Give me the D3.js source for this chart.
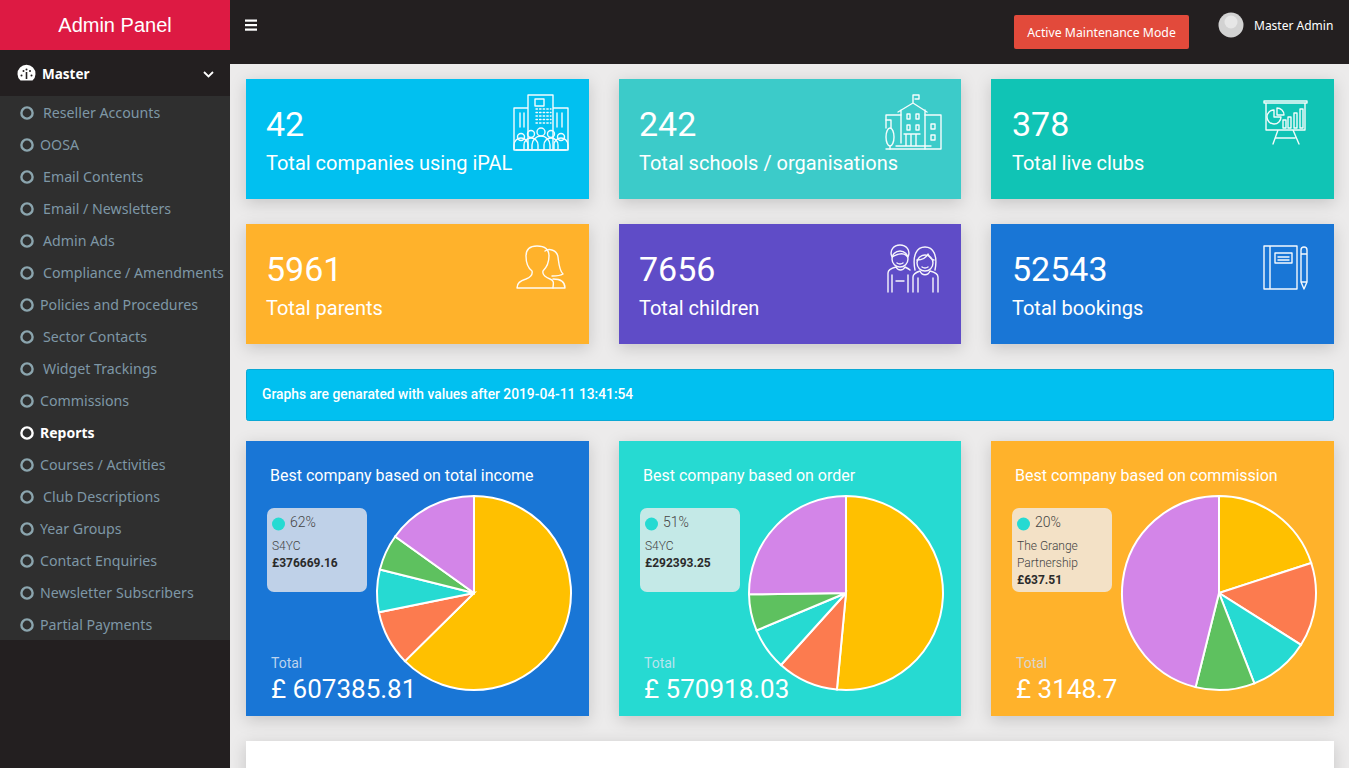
<!DOCTYPE html>
<html>
<head>
<meta charset="utf-8">
<title>Admin Panel</title>
<script src="https://d3js.org/d3.v7.min.js"></script>
<style>
  html, body { margin: 0; padding: 0; background: #ecebeb; overflow: hidden; }
  svg { display: block; }
  .roboto { font-family: Roboto, sans-serif; }
  .side { font-family: "Noto Sans", sans-serif; }
  .card { filter: drop-shadow(0 4px 8px rgba(0,0,0,0.16)); }
  .icon { fill: none; stroke: #fff; stroke-width: 1.4; stroke-linejoin: round; stroke-linecap: round; opacity: 0.95; }
</style>
</head>
<body>
<div id="page"></div>
<script>
// menu
var menuItems = ["Reseller Accounts", "OOSA", "Email Contents", "Email / Newsletters", "Admin Ads",
  "Compliance / Amendments", "Policies and Procedures", "Sector Contacts", "Widget Trackings", "Commissions",
  "Reports", "Courses / Activities", "Club Descriptions", "Year Groups", "Contact Enquiries",
  "Newsletter Subscribers", "Partial Payments"];
var menuIndented = ["Reseller Accounts", "Email Contents", "Email / Newsletters", "Admin Ads",
  "Compliance / Amendments", "Sector Contacts", "Widget Trackings", "Club Descriptions"];

// stat boxes
var statValues = [42, 242, 378, 5961, 7656, 52543];
var statLabels = ["Total companies using iPAL", "Total schools / organisations", "Total live clubs",
  "Total parents", "Total children", "Total bookings"];
var statColors = ["#01c0f0", "#3ccbc9", "#10c4b5", "#ffb22b", "#5f4cc7", "#1976d6"];

var sliceColors = ["#ffc000", "#fc7b4f", "#26dad2", "#5ec15f", "#d385e8"];
var incomeValues = [376669.16, 55400, 42700, 36100, 90831];
var orderValues = [292393.25, 57900, 39700, 34600, 143207];
var commissionValues = [637.51, 446, 322, 313, 1471];

var pieTitles = ["Best company based on total income", "Best company based on order", "Best company based on commission"];
var pieTotals = ["607385.81", "570918.03", "3148.7"];
var piePercents = ["62%", "51%", "20%"];
var pieCompanies = [["S4YC"], ["S4YC"], ["The Grange", "Partnership"]];
var pieAmounts = ["£376669.16", "£292393.25", "£637.51"];
var pieBackgrounds = ["#1976d6", "#26dad2", "#ffb22b"];
var boxColors = ["#bfd1e8", "#c4e9e7", "#f3e1c6"];
var totalColors = ["#bcd3ee", "#b9e4ee", "#d9d6cf"];

var svg = d3.select("#page").append("svg").attr("width", 1349).attr("height", 768);

var colX = [246, 619, 991];
var cardW = 343;

// top bar and sidebar
svg.append("rect").attr("width", 1349).attr("height", 64).attr("fill", "#231f20");
svg.append("rect").attr("width", 230).attr("height", 768).attr("fill", "#231f20");
svg.append("rect").attr("width", 230).attr("height", 50).attr("fill", "#dd1a43");
svg.append("text").attr("x", 115).attr("y", 32).attr("text-anchor", "middle")
  .attr("fill", "#fff").style("font", "20px 'Liberation Sans', sans-serif").text("Admin Panel");

// hamburger
svg.append("g").selectAll("rect").data(d3.range(3)).join("rect")
  .attr("x", 245).attr("y", function(d) { return 19.5 + d * 4.5; })
  .attr("width", 12).attr("height", 2.2).attr("fill", "#fff");

svg.append("rect").attr("x", 1014).attr("y", 15).attr("width", 175).attr("height", 34).attr("rx", 2).attr("fill", "#e24a3b");
svg.append("text").attr("class", "side").attr("x", 1101.5).attr("y", 37).attr("text-anchor", "middle")
  .attr("fill", "#fff").attr("font-size", 12.25).text("Active Maintenance Mode");

// avatar
svg.append("circle").attr("cx", 1231).attr("cy", 25).attr("r", 12.5).attr("fill", "#d2d2d2");
svg.append("circle").attr("cx", 1231).attr("cy", 22).attr("r", 6.5).attr("fill", "#e6e6e6");
svg.append("text").attr("class", "side").attr("x", 1254).attr("y", 30)
  .attr("fill", "#fff").attr("font-size", 12).text("Master Admin");

// master row
svg.append("path").attr("d", "M20.5,80.5 A9,9 0 1 1 32.5,80.5 Z").attr("fill", "#fff");
svg.append("g").attr("fill", "#231f20").selectAll("circle")
  .data([[21.5, 75.5], [23.5, 71], [26.5, 69.5], [30, 71], [31.5, 75.5]]).join("circle")
  .attr("cx", function(d) { return d[0]; }).attr("cy", function(d) { return d[1]; }).attr("r", 1);
svg.append("path").attr("d", "M26.5,72 L26.5,79").attr("stroke", "#231f20").attr("stroke-width", 1.6);
svg.append("text").attr("class", "side").attr("x", 42).attr("y", 79)
  .attr("fill", "#fff").attr("font-size", 13.5).attr("font-weight", 700).text("Master");
svg.append("path").attr("d", "M204,72 l4.5,4.5 l4.5,-4.5").attr("fill", "none")
  .attr("stroke", "#fff").attr("stroke-width", 1.8);

svg.append("rect").attr("y", 96).attr("width", 230).attr("height", 544).attr("fill", "#2f2f2f");

var menu = svg.append("g").selectAll("g").data(menuItems).join("g")
  .attr("transform", function(d, i) { return "translate(0," + (113 + i * 32) + ")"; });
menu.append("circle").attr("cx", 27).attr("r", 5.6).attr("fill", "none")
  .attr("stroke-width", 2.4)
  .attr("stroke", function(d) { return d === "Reports" ? "#fff" : "#8ba5ae"; });
menu.append("text").attr("class", "side")
  .attr("x", function(d) { return menuIndented.indexOf(d) >= 0 ? 43 : 40; })
  .attr("y", 5)
  .attr("font-size", function(d) { return d === "Reports" ? 14 : 14.2; })
  .attr("font-weight", function(d) { return d === "Reports" ? 700 : 400; })
  .attr("fill", function(d) { return d === "Reports" ? "#fff" : "#7e97a6"; })
  .text(function(d) { return d; });

// stat cards
var stats = svg.append("g").selectAll("g").data(statValues).join("g")
  .attr("transform", function(d, i) { return "translate(" + colX[i % 3] + "," + (i < 3 ? 79 : 224) + ")"; });
stats.append("rect").attr("class", "card").attr("width", function(d, i) { return i % 3 === 1 ? 342 : 343; })
  .attr("height", 120).attr("fill", function(d, i) { return statColors[i]; });
stats.append("text").attr("class", "roboto").attr("x", function(d, i) { return i % 3 === 2 ? 21 : 20; })
  .attr("y", 57).attr("fill", "#fff").attr("font-size", 34)
  .text(function(d) { return d; });
stats.append("text").attr("class", "roboto").attr("x", function(d, i) { return i % 3 === 2 ? 21 : 20; })
  .attr("y", 91).attr("fill", "#fff").attr("font-size", 20)
  .text(function(d, i) { return statLabels[i]; });

// line icons, drawn in page coordinates
var icons = svg.append("g").attr("class", "icon");
function line(d) { icons.append("path").attr("d", d); }
function ring(x, y, r) { icons.append("circle").attr("cx", x).attr("cy", y).attr("r", r); }

// companies
line("M528,150 V95 H553 V150 M528,108 H514 V150 H568 V108 H553 M535,99 h9 v7 h-9 z");
line("M520,113 v14 M524,113 v14 M557,113 v14 M562,113 v14");
icons.append("g").attr("stroke-dasharray", "1.4 2.2").selectAll("path").data(d3.range(5)).join("path")
  .attr("d", function(d) { return "M536," + (109 + d * 3.5) + " h15"; });
[[521, 137, 3.5, 7], [531, 134, 3.5, 7], [541, 132, 4, 9], [551, 134, 3.5, 7], [561, 137, 3.5, 7]].forEach(function(p) {
  ring(p[0], p[1], p[2]);
  line("M" + (p[0] - p[3]) + ",149 v-4 a" + p[3] + "," + p[3] + " 0 0 1 " + (2 * p[3]) + ",0 v4");
});
line("M516,150 H566");

// schools
line("M898,112 L913,103 L927,112 M913,103 V95 h6 v4 h-4 M901,110 V143 M925,110 V149");
line("M901,115 H886 V128 M925,115 H941 V149 M886,149 H941 M896,146 H931 M904,134 H920 M906,134 V146 M911,134 V146 M916,134 V146");
line("M886,120 h5 v8");
[[907, 114], [916, 114], [907, 125], [916, 125]].forEach(function(p) { line("M" + p[0] + "," + p[1] + " h3 v5 h-3 z"); });
[[931, 124], [931, 135]].forEach(function(p) { line("M" + p[0] + "," + p[1] + " h4 v5 h-4 z"); });
icons.append("ellipse").attr("cx", 890).attr("cy", 137).attr("rx", 4).attr("ry", 9);
line("M890,146 V149");

// clubs
line("M1264,101 H1307 V103 H1264 Z M1266,103 V130 H1305 V103 M1278,130 L1273,144 M1293,130 L1299,144 M1276,138 H1295");
line("M1274,110 A7,7 0 1 0 1281,117 H1274 Z M1277,108 A7,7 0 0 1 1284,115 H1277 Z");
line("M1283,120 h3 v8 h-3 z M1288,117 h3 v11 h-3 z M1294,113 h3 v15 h-3 z M1300,109 h3 v19 h-3 z");

// parents
line("M517,288 C517,283 520,281 526,279 C531,277 533,275 532,271 C528,268 526,262 526,256 C526,249 530,246 537,246 C545,246 549,249 549,256 C549,263 546,268 543,271 C542,275 545,277 550,279 C555,281 553,284 553,288 Z");
line("M545,251 C549,248 557,250 558,257 C559,264 559,270 563,274 C560,276 555,276 552,276 M553,279 C560,279 565,281 565,288 H553");

// children
ring(900, 259, 8);
line("M892,257 C889,250 894,245 900,245 C906,245 911,250 908,257 C905,253 899,253 892,257 Z");
line("M897,263 Q900,265 903,263 M922,267 Q925,269 928,267");
line("M888,292 V273 C888,270 892,268 896,267 C898,271 903,271 905,267 C907,268 909,269 910,270 M892,275 V292 M908,275 V292 M896,281 H904");
ring(925, 263, 8);
line("M915,270 C912,255 917,247 925,247 C933,247 938,255 935,270 M917,260 C922,260 926,258 928,254 C930,258 932,260 934,260");
line("M913,292 V277 C913,274 917,272 920,271 C922,276 928,276 930,271 C934,272 938,274 938,277 V292 M918,278 V292 M933,278 V292");

// bookings
line("M1264,246 H1297 V289 H1264 Z M1270,246 V289 M1275,253 H1292 V263 H1275 Z M1278,257 H1289 M1278,260 H1289");
line("M1301,250 A3,3 0 0 1 1307,250 V282 L1304,289 L1301,282 Z M1301,254 H1307 M1301,282 H1307");

// notice bar
svg.append("rect").attr("x", 246.5).attr("y", 369.5).attr("width", 1087).attr("height", 51).attr("rx", 2)
  .attr("fill", "#01c0f0").attr("stroke", "#0aa8d4");
svg.append("text").attr("class", "roboto").attr("x", 262).attr("y", 398.5).attr("fill", "#fff")
  .attr("font-size", 13.8).attr("font-weight", 500).text("Graphs are genarated with values after 2019-04-11 13:41:54");

// pie cards
var pie = d3.pie().sort(null);
var arc = d3.arc().innerRadius(0).outerRadius(97);
var pieData = [incomeValues, orderValues, commissionValues];
var pieCenters = [474, 846, 1219];

pieData.forEach(function(values, i) {
  var g = svg.append("g").attr("transform", "translate(" + colX[i] + ",441)");
  g.append("rect").attr("class", "card").attr("width", i === 1 ? 342 : cardW).attr("height", 275).attr("fill", pieBackgrounds[i]);
  g.append("text").attr("class", "roboto").attr("x", 24).attr("y", 40).attr("fill", "#fff").attr("font-size", 16).text(pieTitles[i]);

  // tooltip box of the biggest slice
  g.append("rect").attr("x", 21).attr("y", 67).attr("width", 100).attr("height", 84).attr("rx", 7).attr("fill", boxColors[i]);
  g.append("circle").attr("cx", 32.5).attr("cy", 83).attr("r", 6.5).attr("fill", sliceColors[2]);
  g.append("text").attr("class", "roboto").attr("x", 44).attr("y", 86).attr("fill", "#444").attr("font-weight", 300).attr("font-size", 14).text(piePercents[i]);
  var lines = pieCompanies[i];
  lines.forEach(function(t, j) {
    g.append("text").attr("class", "roboto").attr("x", 26).attr("y", 109 + j * 17).attr("fill", "#444")
      .attr("font-weight", 300).attr("font-size", 12).text(t);
  });
  g.append("text").attr("class", "roboto").attr("x", 26).attr("y", 109 + lines.length * 17).attr("fill", "#2b2b2b")
    .attr("font-weight", 700).attr("font-size", 12).text(pieAmounts[i]);

  g.append("text").attr("class", "roboto").attr("x", 25).attr("y", 227).attr("fill", totalColors[i]).attr("font-size", 14).text("Total");
  g.append("text").attr("class", "roboto").attr("x", 25).attr("y", 257).attr("fill", "#fff").attr("font-size", 26).text("£ " + pieTotals[i]);

  svg.append("g").attr("transform", "translate(" + pieCenters[i] + ",593)")
    .selectAll("path").data(pie(values)).join("path")
    .attr("d", arc)
    .attr("fill", function(d, j) { return sliceColors[j]; })
    .attr("stroke", "#fff").attr("stroke-width", 2);
});

// next panel, cut off by the window
svg.append("rect").attr("class", "card").attr("x", 246).attr("y", 741).attr("width", 1088).attr("height", 60).attr("fill", "#fff");
</script>
</body>
</html>
